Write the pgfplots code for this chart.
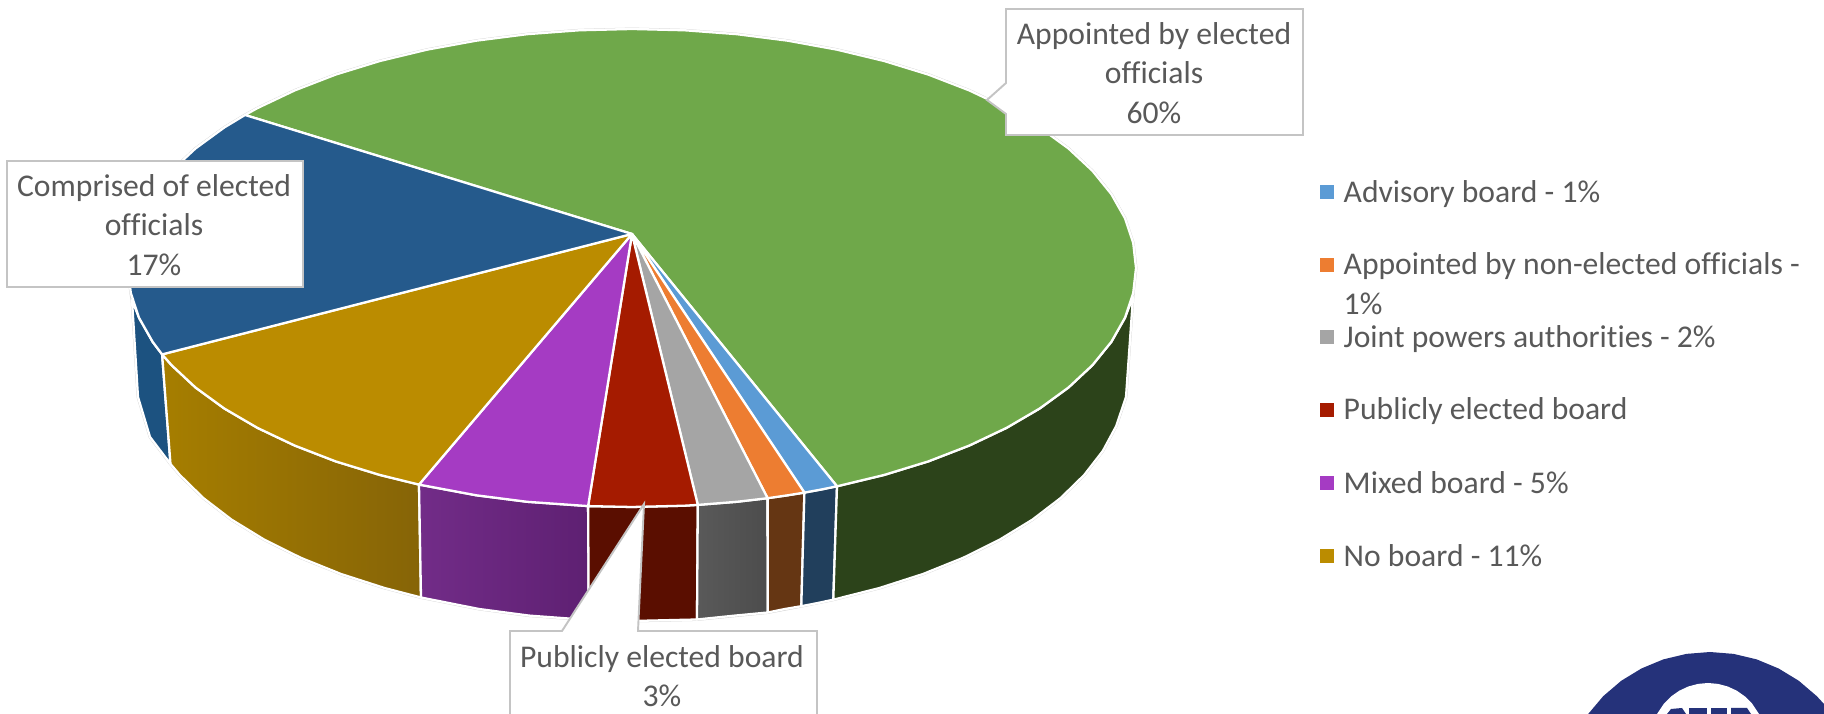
\documentclass[border=0pt]{standalone}
\usepackage{pgfplots}
\pgfplotsset{compat=1.18}
\usepackage{fontspec}
\setmainfont[Ligatures={NoCommon}]{Carlito}
\definecolor{tGreen}{HTML}{6FA84A}
\definecolor{tNavy}{HTML}{255A8C}
\definecolor{tGold}{HTML}{BB8C00}
\definecolor{tPurple}{HTML}{A53BC3}
\definecolor{tRed}{HTML}{A51B00}
\definecolor{tGray}{HTML}{A5A5A5}
\definecolor{tOrange}{HTML}{ED7D31}
\definecolor{tBlue}{HTML}{5B9BD5}
\definecolor{sGreen}{HTML}{2C431A}
\definecolor{sNavy}{HTML}{1C5280}
\definecolor{sBlue}{HTML}{213F5C}
\definecolor{sBrown}{HTML}{653613}
\definecolor{sDarkRed}{HTML}{5A0E00}
\definecolor{sGoldL}{HTML}{A67E00}
\definecolor{sGoldR}{HTML}{866407}
\definecolor{sPurpL}{HTML}{722C88}
\definecolor{sPurpR}{HTML}{5E2072}
\definecolor{outl}{HTML}{D0D0D0}
\definecolor{boxl}{HTML}{C4C4C4}
\definecolor{txt}{HTML}{595959}
\definecolor{logo}{HTML}{25327A}
\pgfplotsset{
  wedge/.style={draw=white,line width=0.65pt,line join=round},
  box/.style={draw=boxl,line width=0.55pt,fill=white,line join=miter},
}
\begin{document}
\begin{tikzpicture}
\path[use as bounding box] (0,0) rectangle (18.24cm,7.14cm);
\begin{axis}[
  at={(0,0)},anchor=south west,
  scale only axis,width=18.24cm,height=7.14cm,
  xmin=0,xmax=1824,ymin=0,ymax=714,y dir=reverse,
  hide axis,
  font=\color{txt}\fontsize{9}{11.2}\selectfont,
]
% silhouette outline
\addplot[draw=outl,line width=0.8pt,fill=none] coordinates {
(132,300)(130.8,293)(128,268)(130.8,243)(139,218.3)(152.7,194.1)(171.6,170.8)(195.5,148.5)(224.3,127.5)(245,115)
(257.5,108.1)(294.8,90.4)(335.7,74.6)(380,61)(427,49.7)(476.3,40.7)(527.2,34.2)(579.3,30.3)(632,29)(684.7,30.3)(736.8,34.2)(787.7,40.7)(837,49.7)(884,61)(928.3,74.6)(969.2,90.4)(1006.5,108.1)(1039.7,127.5)(1068.5,148.5)(1092.4,170.8)(1111.3,194.1)(1125,218.3)(1133.2,243)(1136,268)(1133.2,293)
(1126,397)(1116.2,426.1)(1102.8,451)(1084.2,475)(1060.7,498)(1032.5,519.6)(999.8,539.6)(963.2,557.8)(923,574)(879.5,588)(833.3,599.7)(801.3,606.2)(767.7,612.5)(697,619.5)(632,621)(588.8,620)(529.1,615.6)(479,609)(421,597.5)(384.5,588)(341,574)(300.8,557.8)(264.2,539.6)(231.5,519.6)(203.3,498)(179.8,475)(170.5,464)(150,437)(138,397)(132,300)
};
% sides
\addplot[wedge,fill=sNavy] coordinates {(162.1,354.4)(152.7,341.9)(139,317.7)(132,300)(138,397)(150,437)(170.5,464)} -- cycle;
\addplot[wedge,left color=sGoldL,right color=sGoldR] coordinates {(419,484.6)(380,475)(335.7,461.4)(294.8,445.6)(257.5,427.9)(224.3,408.5)(195.5,387.5)(171.6,365.2)(162.1,354.4)(170.5,464)(179.8,475)(203.3,498)(231.5,519.6)(264.2,539.6)(300.8,557.8)(341,574)(384.5,588)(421,597.5)} -- cycle;
\addplot[wedge,left color=sPurpL,right color=sPurpR] coordinates {(588.1,506.1)(527.2,501.8)(476.3,495.3)(419,484.6)(421,597.5)(479,609)(529.1,615.6)(588.8,620)} -- cycle;
\addplot[wedge,fill=sDarkRed] coordinates {(697.8,504.9)(684.7,505.7)(632,507)(588.1,506.1)(588.8,620)(632,621)(697,619.5)} -- cycle;
\addplot[wedge,left color=black!65,right color=black!70] coordinates {(767.6,498.2)(736.8,501.8)(697.8,504.9)(697,619.5)(734.9,615.6)(767.7,612.5)} -- cycle;
\addplot[wedge,fill=sBrown] coordinates {(804.4,492.6)(787.7,495.3)(767.6,498.2)(767.7,612.5)(785,609)(801.3,606.2)} -- cycle;
\addplot[wedge,fill=sBlue] coordinates {(837,486.3)(820.8,489.6)(804.4,492.6)(801.3,606.2)(817.4,603.1)(833.3,599.7)} -- cycle;
\addplot[wedge,fill=sGreen] coordinates {(837,486.3)(884,475)(928.3,461.4)(969.2,445.6)(1006.5,427.9)(1039.7,408.5)(1068.5,387.5)(1092.4,365.2)(1111.3,341.9)(1125,317.7)(1133,297)(1126,397)(1116.2,426.1)(1102.8,451)(1084.2,475)(1060.7,498)(1032.5,519.6)(999.8,539.6)(963.2,557.8)(923,574)(879.5,588)(833.3,599.7)} -- cycle;
% top faces
\addplot[wedge,fill=tGreen] coordinates {(632,234)(245,115)(257.5,108.1)(294.8,90.4)(335.7,74.6)(380,61)(427,49.7)(476.3,40.7)(527.2,34.2)(579.3,30.3)(632,29)(684.7,30.3)(736.8,34.2)(787.7,40.7)(837,49.7)(884,61)(928.3,74.6)(969.2,90.4)(1006.5,108.1)(1039.7,127.5)(1068.5,148.5)(1092.4,170.8)(1111.3,194.1)(1125,218.3)(1133.2,243)(1136,268)(1133.2,293)(1125,317.7)(1111.3,341.9)(1092.4,365.2)(1068.5,387.5)(1039.7,408.5)(1006.5,427.9)(969.2,445.6)(928.3,461.4)(884,475)(837,486.3)} -- cycle;
\addplot[wedge,fill=tBlue] coordinates {(632,234)(837,486.3)(820.8,489.6)(804.4,492.6)} -- cycle;
\addplot[wedge,fill=tOrange] coordinates {(632,234)(804.4,492.6)(787.7,495.3)(767.6,498.2)} -- cycle;
\addplot[wedge,fill=tGray] coordinates {(632,234)(767.6,498.2)(736.8,501.8)(697.8,504.9)} -- cycle;
\addplot[wedge,fill=tRed] coordinates {(632,234)(697.8,504.9)(684.7,505.7)(632,507)(588.1,506.1)} -- cycle;
\addplot[wedge,fill=tPurple] coordinates {(632,234)(588.1,506.1)(527.2,501.8)(476.3,495.3)(419,484.6)} -- cycle;
\addplot[wedge,fill=tGold] coordinates {(632,234)(419,484.6)(380,475)(335.7,461.4)(294.8,445.6)(257.5,427.9)(224.3,408.5)(195.5,387.5)(171.6,365.2)(162.1,354.4)} -- cycle;
\addplot[wedge,fill=tNavy] coordinates {(632,234)(162.1,354.4)(152.7,341.9)(139,317.7)(130.8,293)(128,268)(130.8,243)(139,218.3)(152.7,194.1)(171.6,170.8)(195.5,148.5)(224.3,127.5)(245,115)} -- cycle;
% callouts
\addplot[box] coordinates {(1006,9)(1303,9)(1303,135)(1006,135)(1006,114)(987,100)(1006,83)} -- cycle;
\addplot[box] coordinates {(7,161)(303,161)(303,287)(7,287)} -- cycle;
\addplot[box] coordinates {(510,631)(562,631)(644,504)(638,631)(817,631)(817,730)(510,730)} -- cycle;
\node[align=center] at (axis cs:1154,73) {Appointed by elected\\officials\\60\%};
\node[align=center] at (axis cs:154,225) {Comprised of elected\\officials\\17\%};
\node[align=center] at (axis cs:662,676) {Publicly elected board\\3\%};
% legend swatches
\addplot[only marks,mark=square*,mark size=1.7pt,color=tBlue] coordinates {(1327,192)};
\addplot[only marks,mark=square*,mark size=1.7pt,color=tOrange] coordinates {(1327,265)};
\addplot[only marks,mark=square*,mark size=1.7pt,color=tGray] coordinates {(1327,337)};
\addplot[only marks,mark=square*,mark size=1.7pt,color=tRed] coordinates {(1327,410)};
\addplot[only marks,mark=square*,mark size=1.7pt,color=tPurple] coordinates {(1327,483)};
\addplot[only marks,mark=square*,mark size=1.7pt,color=tGold] coordinates {(1327,556)};
\node[anchor=base west,inner sep=0pt] at (axis cs:1343,203) {Advisory board - 1\%};
\node[anchor=base west,inner sep=0pt] at (axis cs:1343,275) {Appointed by non-elected officials -};
\node[anchor=base west,inner sep=0pt] at (axis cs:1343,315) {1\%};
\node[anchor=base west,inner sep=0pt] at (axis cs:1343,348) {Joint powers authorities - 2\%};
\node[anchor=base west,inner sep=0pt] at (axis cs:1343,420) {Publicly elected board};
\node[anchor=base west,inner sep=0pt] at (axis cs:1343,494) {Mixed board - 5\%};
\node[anchor=base west,inner sep=0pt] at (axis cs:1343,567) {No board - 11\%};
% logo
\addplot[draw=none,fill=logo] coordinates {(1588,714.2)(1603.2,696.2)(1621.2,680.8)(1641.4,668.5)(1663.3,659.4)(1686.4,653.9)(1710,652)(1733.6,653.9)(1756.7,659.4)(1778.6,668.5)(1798.8,680.8)(1816.8,696.2)(1824,704)(1824,720)(1588,720)} -- cycle;
\addplot[draw=none,fill=white] coordinates {(1657,714)(1664,703.5)(1671,696.5)(1679.3,690.7)(1688.3,686.5)(1698,683.9)(1708,683)(1718,683.9)(1727.7,686.5)(1736.8,690.7)(1745,696.5)(1752,703.5)(1759,714)(1759,720)(1657,720)} -- cycle;
% logo lettering (tops only are in frame)
\addplot[draw=none,fill=logo] coordinates {(1667,714)(1671,709)(1682,708)(1686,714)} -- cycle;
\addplot[draw=none,fill=logo] coordinates {(1689,708)(1707,708)(1707,714)(1689,714)} -- cycle;
\addplot[draw=none,fill=logo] coordinates {(1711,708)(1727,708)(1727,714)(1711,714)} -- cycle;
\addplot[draw=none,fill=logo] coordinates {(1731,708)(1747,708)(1751,714)(1731,714)} -- cycle;
\end{axis}
\end{tikzpicture}
\end{document}
